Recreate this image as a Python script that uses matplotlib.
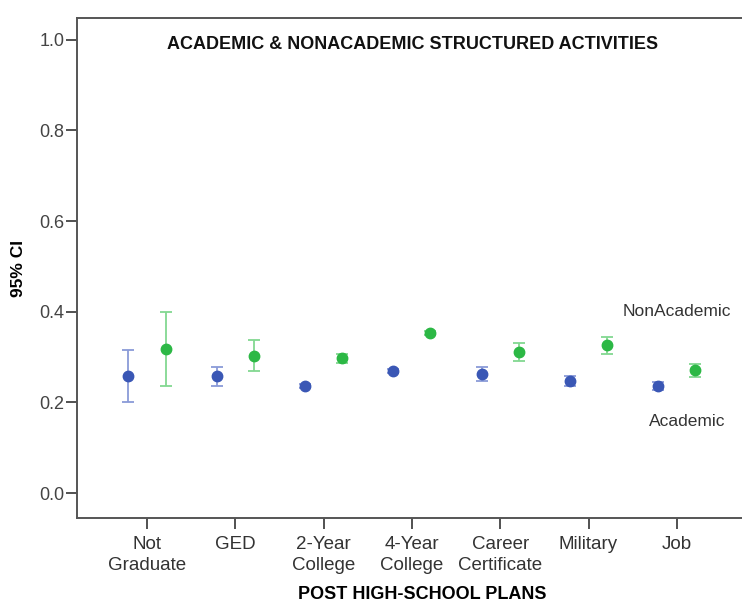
import numpy as np
import matplotlib
matplotlib.use("Agg")
import matplotlib.pyplot as plt

plt.rcParams["font.family"] = ["Liberation Sans", "DejaVu Sans"]

# --- data ---
plans = ["Not\nGraduate", "GED", "2-Year\nCollege", "4-Year\nCollege",
         "Career\nCertificate", "Military", "Job"]

acad_mean = [0.258, 0.258, 0.236, 0.269, 0.263, 0.247, 0.236]
acad_lo   = [0.201, 0.236, 0.231, 0.265, 0.247, 0.236, 0.227]
acad_hi   = [0.316, 0.278, 0.241, 0.273, 0.278, 0.258, 0.245]

nonacad_mean = [0.318, 0.302, 0.298, 0.353, 0.311, 0.327, 0.271]
nonacad_lo   = [0.236, 0.269, 0.287, 0.348, 0.291, 0.307, 0.256]
nonacad_hi   = [0.400, 0.338, 0.307, 0.358, 0.331, 0.344, 0.285]

BLUE = "#3a57b5"
GREEN = "#2cb845"
OFF = 0.21
SPACING_PX = 88.3   # px between category ticks in the reference


def errbar(ax, x, mean, lo, hi, color, ecolor):
    mean = np.asarray(mean)
    yerr = np.vstack([mean - np.asarray(lo), np.asarray(hi) - mean])
    ax.errorbar(x, mean, yerr=yerr, fmt="none", ecolor=ecolor,
                elinewidth=1.3, capsize=4, capthick=1.3, zorder=2)
    ax.plot(x, mean, "o", color=color, markersize=7.5, zorder=3)


fig = plt.figure(figsize=(7.42, 6.05), dpi=100)
ax_w = 0.93
ax = fig.add_axes([0.1038, 0.1438, ax_w, 0.8264])

x = np.arange(len(plans))
errbar(ax, x - OFF, acad_mean, acad_lo, acad_hi, BLUE, "#8a9bd8")
errbar(ax, x + OFF, nonacad_mean, nonacad_lo, nonacad_hi, GREEN, "#82d891")

left = -0.793
ax.set_xlim(left, left + ax_w * 742 / SPACING_PX)
ax.set_ylim(-0.055, 1.048)
ax.set_yticks([0.0, 0.2, 0.4, 0.6, 0.8, 1.0])
ax.set_yticklabels(["0.0", "0.2", "0.4", "0.6", "0.8", "1.0"])
ax.set_xticks(x)
ax.set_xticklabels(plans, linespacing=1.3)

for s in ["left", "bottom", "top", "right"]:
    ax.spines[s].set_color("#555555")
    ax.spines[s].set_linewidth(1.4)

ax.tick_params(axis="y", direction="out", length=8, width=1.2, color="#333333",
               labelsize=13, labelcolor="#444444", pad=1)
ax.tick_params(axis="x", direction="out", length=8, width=1.2, color="#333333",
               labelsize=13.5, labelcolor="#333333", pad=5)

ax.text(0.5 * 742 * 0.9 / (742 * ax_w) + 0.003, 0.947,
        "ACADEMIC & NONACADEMIC STRUCTURED ACTIVITIES",
        transform=ax.transAxes, ha="center", va="center",
        fontsize=13, fontweight="bold", color="#111111")

ax.text(6.0, 0.40, "NonAcademic", ha="center", va="center",
        fontsize=12.5, color="#333333")
ax.text(6.12, 0.158, "Academic", ha="center", va="center",
        fontsize=12.5, color="#333333")

ax.set_ylabel("95% CI", fontsize=12.5, fontweight="bold", labelpad=10)
ax.set_xlabel("POST HIGH-SCHOOL PLANS", fontsize=13, fontweight="bold",
              labelpad=9)

fig.savefig("out.png", dpi=100)
